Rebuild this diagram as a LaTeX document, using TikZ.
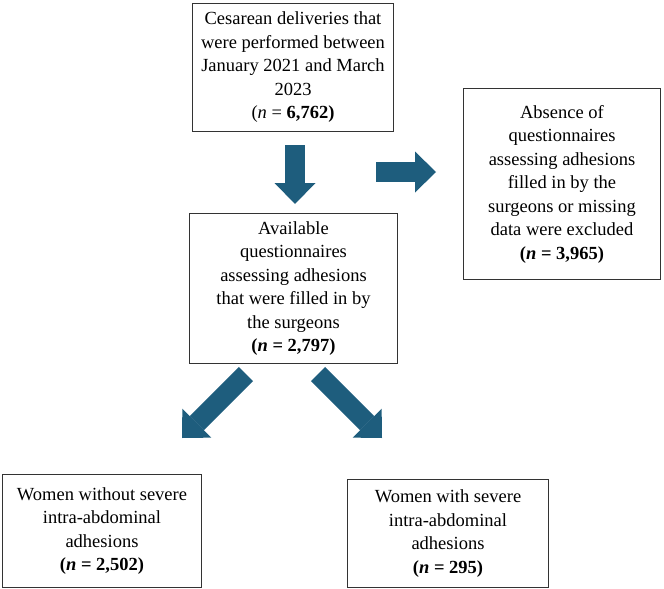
\documentclass[tikz,border=0pt]{standalone}
\usepackage{fontspec}
\setmainfont{Liberation Serif}
\usetikzlibrary{arrows.meta}
\definecolor{arrowblue}{RGB}{30,93,125}
\tikzset{
    flowbox/.style={draw=black!80, line width=1pt, fill=white, align=center, inner sep=0pt,
        font=\fontsize{18.5}{23.5}\selectfont},
    bigarrow/.style={draw=arrowblue, line width=20pt,
        -{Triangle[length=21pt, width=41pt, line width=0pt]}}
}
\begin{document}
\begin{tikzpicture}[x=1pt, y=-1pt]
        \useasboundingbox (0, 0) rectangle (664, 589);

        % Step 1: All deliveries and exclusions
        \node[flowbox, minimum width=201, minimum height=128] (cesarean) at (293, 67.5)
            {Cesarean deliveries that\\were performed between\\January 2021 and March\\2023\\(\textit{n} = \textbf{6,762)}};
        \node[flowbox, minimum width=197, minimum height=191] (excluded) at (562, 184)
            {Absence of\\questionnaires\\assessing adhesions\\filled in by the\\surgeons or missing\\data were excluded\\\textbf{(\textit{n} = 3,965)}};

        % Step 2: Available questionnaires
        \node[flowbox, minimum width=208, minimum height=150] (available) at (293.5, 288.5)
            {Available\\questionnaires\\assessing adhesions\\that were filled in by\\the surgeons\\\textbf{(\textit{n} = 2,797)}};

        % Step 3: Split by severity
        \node[flowbox, minimum width=199, minimum height=113] (without) at (102, 531)
            {Women without severe\\intra-abdominal\\adhesions\\\textbf{(\textit{n} = 2,502)}};
        \node[flowbox, minimum width=201, minimum height=108] (with) at (448, 533.5)
            {Women with severe\\intra-abdominal\\adhesions\\\textbf{(\textit{n} = 295)}};

        % Block arrows
        \coordinate (downtop) at (295, 145);
        \coordinate (downtip) at (295, 204);
        \coordinate (righttop) at (376, 172);
        \coordinate (righttip) at (436, 172);
        \coordinate (lefttop) at (246, 374);
        \coordinate (lefttip) at (182, 438);
        \coordinate (sevtop) at (318, 374);
        \coordinate (sevtip) at (382, 438);
        \draw[bigarrow] (downtop) -- (downtip);
        \draw[bigarrow] (righttop) -- (righttip);
        \draw[bigarrow] (lefttop) -- (lefttip);
        \draw[bigarrow] (sevtop) -- (sevtip);
    \end{tikzpicture}
\end{document}
